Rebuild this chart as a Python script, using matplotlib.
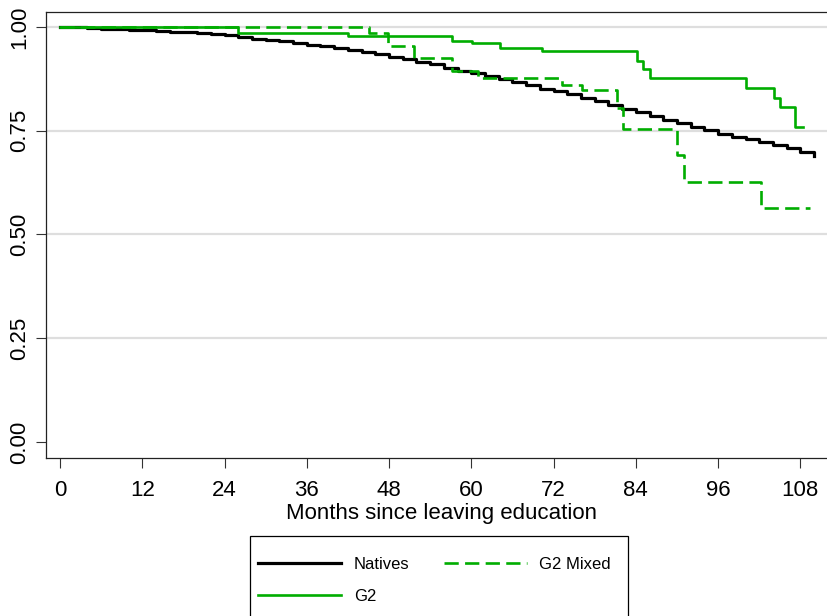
import matplotlib
matplotlib.use("Agg")
import matplotlib.pyplot as plt
from matplotlib.patches import Rectangle

plt.rcParams['font.family'] = ['Liberation Sans', 'DejaVu Sans']

# Kaplan-Meier estimates (month, survival) drawn as step functions
natives_t = [0, 2, 4, 6, 8, 10, 12, 14, 16, 18, 20, 22, 24, 26, 28, 30, 32, 34,
             36, 38, 40, 42, 44, 46, 48, 50, 52, 54, 56, 58, 60, 62, 64, 66, 68,
             70, 72, 74, 76, 78, 80, 82, 84, 86, 88, 90, 92, 94, 96, 98, 100,
             102, 104, 106, 108, 110]
natives_s = [1.000, 0.999, 0.998, 0.996, 0.994, 0.993, 0.992, 0.990, 0.989, 0.988,
             0.986, 0.983, 0.980, 0.975, 0.972, 0.969, 0.965, 0.961, 0.957, 0.953,
             0.949, 0.945, 0.940, 0.934, 0.928, 0.922, 0.916, 0.910, 0.902, 0.894,
             0.888, 0.881, 0.874, 0.867, 0.859, 0.851, 0.845, 0.838, 0.830, 0.822,
             0.812, 0.803, 0.794, 0.785, 0.776, 0.768, 0.760, 0.752, 0.743, 0.735,
             0.729, 0.722, 0.716, 0.708, 0.699, 0.690]

g2_t = [0, 26, 42, 57.2, 60.1, 64.2, 70.3, 84.1, 85.0, 86.0, 100.0, 104.1, 105.0, 107.2, 108.4]
g2_s = [1.000, 0.985, 0.977, 0.967, 0.961, 0.950, 0.942, 0.919, 0.898, 0.877, 0.853,
        0.830, 0.807, 0.760, 0.760]

mixed_t = [0, 45.1, 47.8, 51.7, 57.2, 61.0, 73.2, 76.1, 81.2, 82.1, 90.0, 91.0, 102.3, 109.4]
mixed_s = [1.000, 0.985, 0.955, 0.925, 0.894, 0.877, 0.861, 0.847, 0.805, 0.754, 0.692,
           0.626, 0.564, 0.564]

xticks = [0, 12, 24, 36, 48, 60, 72, 84, 96, 108]
yticks = [0.00, 0.25, 0.50, 0.75, 1.00]

W, H = 827, 616
fig = plt.figure(figsize=(W / 100, H / 100), dpi=100)
ax = fig.add_axes([46 / W, 1 - 458 / H, 790 / W, 446 / H])

green = '#00ad00'
for y in yticks[1:]:
    ax.axhline(y, color='#dedede', lw=1.6, zorder=0)

ax.plot(natives_t, natives_s, drawstyle='steps-post', color='black', lw=2.3,
        label='Natives')
ax.plot(g2_t, g2_s, drawstyle='steps-post', color=green, lw=1.9, label='G2')
ax.plot(mixed_t, mixed_s, drawstyle='steps-post', color=green, lw=1.9,
        dashes=(5.4, 2.4), label='G2 Mixed')

ax.set_xlim(-2.04, 113.2)
ax.set_ylim(-0.0385, 1.036)
ax.set_xticks(xticks)
ax.set_yticks(yticks)
ax.set_yticklabels([f'{v:.2f}' for v in yticks], rotation=90, va='center')
ax.tick_params(axis='both', direction='out', length=7.2, width=0.8,
               labelsize=16, color='#333333')
ax.tick_params(axis='x', pad=8.5)
ax.tick_params(axis='y', pad=4)
for sp in ax.spines.values():
    sp.set_linewidth(0.9)
    sp.set_color('#222222')
ax.set_xlabel('Months since leaving education', fontsize=16, labelpad=1.5)

# legend box (bottom runs off the figure)
fig.patches.append(Rectangle((250 / W, 1 - 640 / H), 378 / W, 104 / H,
                             transform=fig.transFigure, fill=False,
                             edgecolor='black', lw=0.9))
fig.legend(loc='upper left', bbox_to_anchor=(258 / W, 1 - 557 / H), ncol=2,
           frameon=False, fontsize=12, handlelength=5.0, handletextpad=0.75,
           columnspacing=2.05, labelspacing=1.0, borderpad=0, borderaxespad=0)

fig.savefig('out.png', dpi=100)
